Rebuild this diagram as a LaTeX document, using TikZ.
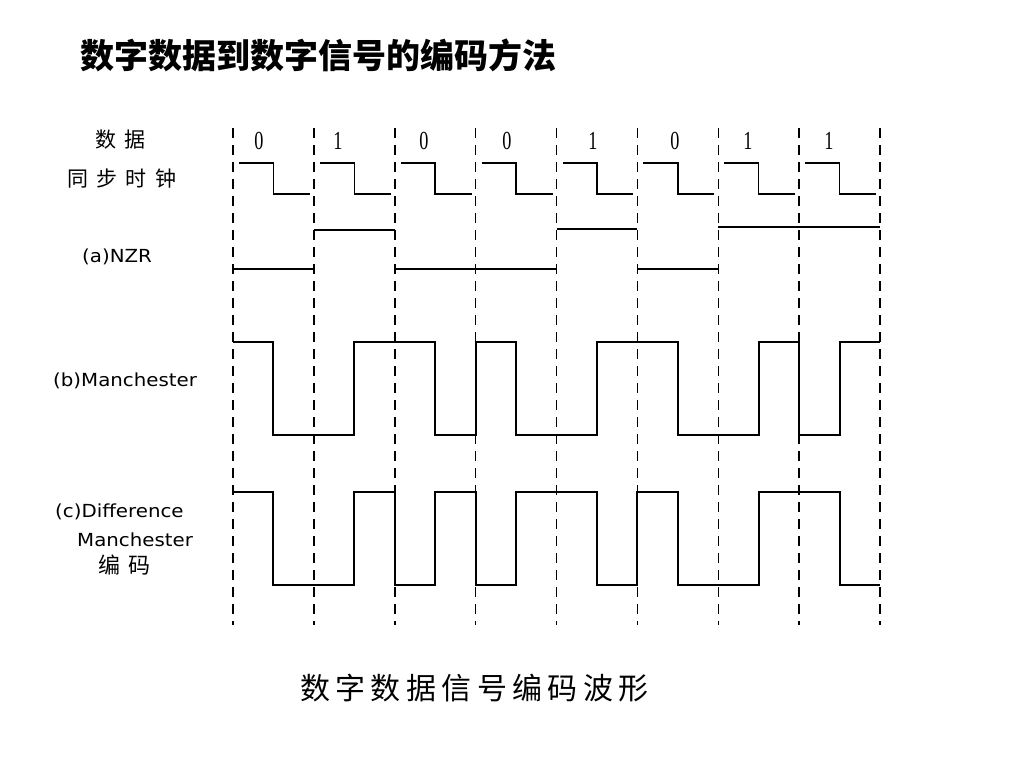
\documentclass[tikz,border=0pt]{standalone}
\usepackage{fontspec}
\newfontfamily\cjk{Noto Sans CJK SC}
\newfontfamily\cjkwide[LetterSpace=40]{Noto Sans CJK SC}
\newfontfamily\capfont[LetterSpace=18]{Noto Sans CJK SC}
\newfontfamily\lblfont[FakeStretch=1.1]{DejaVu Sans}
\newfontfamily\bitfont[FakeStretch=0.7]{Liberation Serif}
\tikzstyle{grid}=[line width=1.5pt,dash pattern=on 10pt off 7pt]
\tikzstyle{wave}=[line width=1.4pt]
\tikzstyle{thick wave}=[line width=2.6pt]
\tikzstyle{bit}=[font=\bitfont\fontsize{26}{28}\selectfont,inner sep=0pt]
\tikzstyle{lbl}=[font=\lblfont\fontsize{18}{20}\selectfont,inner sep=0pt,anchor=west]
\tikzstyle{cjklbl}=[font=\cjkwide\fontsize{21}{24}\selectfont,inner sep=0pt,anchor=west]

\begin{document}
\begin{tikzpicture}[x=1pt,y=-1pt]
\fill[white] (0,0) rectangle (1024,768);
\useasboundingbox (0,0) rectangle (1024,768);

\node[anchor=west,inner sep=0pt,font=\cjk\bfseries\fontsize{34}{40}\selectfont] (title) at (80,55) {数字数据到数字信号的编码方法};

\node[cjklbl] (data) at (95,140) {数据};
\node[cjklbl] (clock) at (67,179) {同步时钟};
\node[lbl] (nzr) at (82,257) {(a)NZR};
\node[lbl] (man) at (53,381) {(b)Manchester};
\node[lbl] (diff) at (55,512) {(c)Difference};
\node[lbl] (diffman) at (77,540) {Manchester};
\node[cjklbl,font=\cjkwide\fontsize{22}{24}\selectfont] (diffcode) at (98,565) {编码};

\foreach \i in {0,...,8}
  \draw[grid] ({233+80.875*\i},128) -- ({233+80.875*\i},625);

\foreach \x/\b in {259/0,338/1,424/0,507/0,593/1,675/0,748/1,829/1}
  \node[bit] (d\x) at (\x,141) {\b};

\foreach \i in {0,...,7}
  \draw[wave] ({233+80.875*\i+6},163) -- ({233+80.875*(\i+0.5)},163)
    -- ({233+80.875*(\i+0.5)},194) -- ({233+80.875*(\i+1)-4},194);

\draw[thick wave] (233,269) -- (314,269);
\draw[thick wave] (314,230) -- (395,230);
\draw[wave] (395,269) -- (557,269);
\draw[wave] (557,229) -- (637,229);
\draw[wave] (637,269) -- (718,269);
\draw[wave] (718,227) -- (880,227);

\draw[wave] (233,342) -- (273,342) -- (273,435) -- (354,435) -- (354,342)
  -- (435,342) -- (435,435) -- (476,435) -- (476,342) -- (516,342)
  -- (516,435) -- (597,435) -- (597,342) -- (678,342) -- (678,435)
  -- (759,435) -- (759,342) -- (799,342) -- (799,435) -- (840,435)
  -- (840,342) -- (880,342);

\draw[wave] (233,492) -- (273,492) -- (273,585) -- (354,585) -- (354,492)
  -- (395,492) -- (395,585) -- (435,585) -- (435,492) -- (476,492)
  -- (476,585) -- (516,585) -- (516,492) -- (597,492) -- (597,585)
  -- (637,585) -- (637,492) -- (678,492) -- (678,585) -- (759,585)
  -- (759,492) -- (840,492) -- (840,585) -- (880,585);

\node[anchor=west,inner sep=0pt,font=\capfont\fontsize{30}{34}\selectfont] (caption) at (300,688) {数字数据信号编码波形};
\end{tikzpicture}
\end{document}
